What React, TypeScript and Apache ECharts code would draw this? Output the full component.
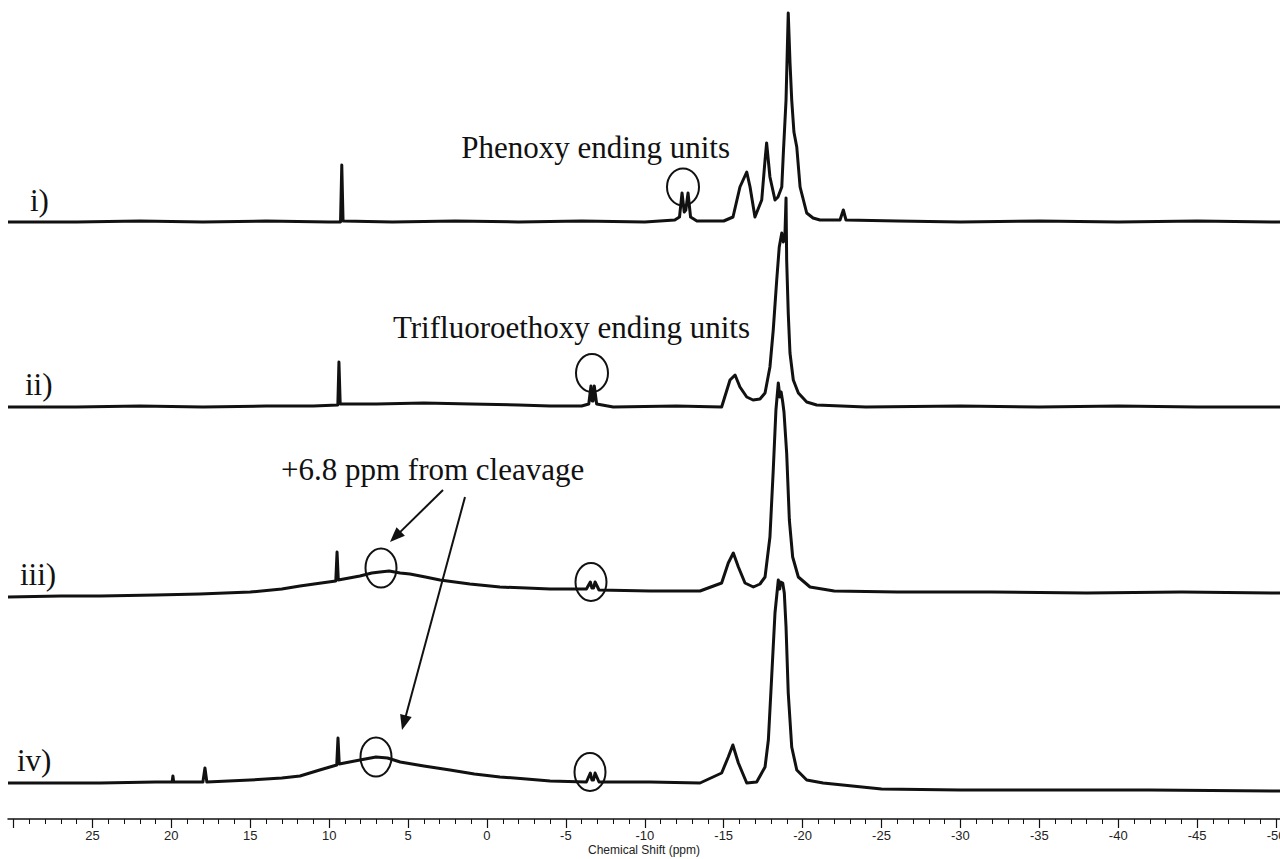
import React, { useEffect, useRef } from "react";
import * as echarts from "echarts";

// ---------- data (ppm, intensity a.u.; 0 = trace baseline) ----------
const PPM_MIN = -50.25;
const PPM_MAX = 30.35;

const TICK_LABELS = [25, 20, 15, 10, 5, 0, -5, -10, -15, -20, -25, -30, -35, -40, -45, -50];
const MAJOR_TICKS = [30, 25, 20, 15, 10, 5, 0, -5, -10, -15, -20, -25, -30, -35, -40, -45, -50];

const TRACE_NAMES = ["i)", "ii)", "iii)", "iv)"];

const TRACE_I: [number, number][] = [
  [30.35, 0], [26, 0], [22, 1], [18, 0], [14, 1], [10, 0], [9.28, 0], [9.2, 57], [9.12, 1],
  [6, 0], [2, 1], [-2, 0], [-6, 1], [-10, 0], [-11.9, 2], [-12.2, 5], [-12.36, 29], [-12.5, 10],
  [-12.6, 12], [-12.74, 29], [-12.9, 5], [-13.3, 1], [-15.0, 1], [-15.59, 5], [-16.03, 35],
  [-16.46, 50], [-16.67, 35], [-16.98, 5], [-17.41, 22], [-17.62, 62], [-17.72, 79], [-17.93, 45],
  [-18.25, 22], [-18.44, 25], [-18.68, 35], [-18.78, 69], [-18.95, 122], [-19.09, 209], [-19.2, 160],
  [-19.31, 122], [-19.45, 90], [-19.63, 75], [-19.84, 35], [-20.26, 9], [-20.66, 4], [-21.1, 2],
  [-22.37, 2], [-22.58, 12], [-22.75, 2], [-26, 1], [-30, 0], [-35, 1], [-40, 0], [-45, 1], [-50.25, 0],
];

const TRACE_II: [number, number][] = [
  [30.35, 0], [26, 0], [22, 1], [18, 0], [14, 1], [11, 1], [9.45, 2], [9.38, 45], [9.3, 3], [7, 3],
  [4, 4], [1, 3], [-2, 2], [-4, 1], [-6, 1], [-6.45, 3], [-6.59, 21], [-6.66, 6], [-6.72, 6],
  [-6.8, 21], [-6.95, 3], [-8, 0], [-12, 1], [-14.87, 0], [-15.4, 27], [-15.72, 32], [-16.03, 20],
  [-16.46, 10], [-16.86, 7], [-17.3, 8], [-17.62, 14], [-17.93, 40], [-18.14, 77], [-18.36, 127],
  [-18.52, 160], [-18.68, 174], [-18.78, 165], [-18.88, 172], [-18.95, 209], [-18.99, 147],
  [-19.09, 94], [-19.2, 54], [-19.41, 27], [-19.73, 14], [-20.26, 5], [-20.89, 2], [-24, 0],
  [-30, 1], [-35, 0], [-40, 1], [-45, 0], [-50.25, 0],
];

const TRACE_III: [number, number][] = [
  [30.35, -5], [27, -4], [24.5, -4], [21, -3], [18.2, -2], [15, 0], [13, 3], [11.85, 6], [10.5, 9],
  [9.58, 11], [9.5, 40], [9.42, 12], [8.05, 16], [7.3, 19], [6.78, 20], [6.2, 21], [5.5, 19],
  [4.88, 18], [3.9, 15], [2.98, 12], [1.08, 8], [-0.82, 5], [-2.5, 4], [-4.0, 3], [-6.3, 3],
  [-6.55, 10], [-6.65, 4], [-6.75, 4], [-6.85, 10], [-7.1, 2], [-10.33, 1], [-13.5, 1], [-14.87, 9],
  [-15.29, 29], [-15.61, 39], [-15.93, 25], [-16.35, 9], [-16.88, 5], [-17.3, 8], [-17.62, 15],
  [-17.93, 55], [-18.14, 122], [-18.31, 182], [-18.46, 209], [-18.56, 195], [-18.64, 200],
  [-18.74, 190], [-18.82, 180], [-18.99, 139], [-19.16, 72], [-19.37, 35], [-19.73, 15],
  [-20.47, 5], [-22, 1], [-26, 0], [-32, 0], [-38, -1], [-44, 0], [-50.25, -1],
];

const TRACE_IV: [number, number][] = [
  [30.35, 2], [27, 2], [24.5, 2], [21, 3], [19.95, 3], [19.9, 9], [19.85, 3], [18.0, 3], [17.87, 17],
  [17.75, 3], [15, 5], [13, 7], [11.85, 9], [10.6, 15], [9.52, 20], [9.44, 47], [9.36, 21], [8.05, 25],
  [7.03, 28], [6.3, 27], [5.5, 23], [4.0, 19], [2.34, 15], [0.8, 11], [-0.82, 8], [-2.5, 6], [-4.0, 4],
  [-6.3, 3], [-6.55, 12], [-6.65, 5], [-6.75, 5], [-6.85, 12], [-7.1, 3], [-10.33, 3], [-13.5, 2],
  [-14.87, 12], [-15.29, 28], [-15.58, 40], [-15.93, 22], [-16.46, 2], [-17.09, 3], [-17.62, 18],
  [-17.83, 45], [-18.04, 108], [-18.25, 172], [-18.46, 205], [-18.55, 196], [-18.61, 203],
  [-18.74, 202], [-18.84, 192], [-18.95, 158], [-19.09, 92], [-19.31, 38], [-19.63, 15],
  [-20.26, 5], [-21.3, 2], [-25, -4], [-30, -5], [-36, -5], [-42, -5], [-50.25, -6],
];

const TRACES = [TRACE_I, TRACE_II, TRACE_III, TRACE_IV];

// ---------- layout ----------
const W = 1280;
const H = 859;
const BASELINES = [222, 407, 592, 785];
const AXIS_Y = 819;
const SERIF = '"Liberation Serif", "Times New Roman", Times, serif';
const SANS = '"Liberation Sans Narrow", "Liberation Sans", Arial, sans-serif';
const INK = "#111";

function arrow(x1: number, y1: number, x2: number, y2: number) {
  const dx = x2 - x1, dy = y2 - y1;
  const len = Math.hypot(dx, dy);
  const ux = dx / len, uy = dy / len;
  const hl = 15, hw = 6;
  const bx = x2 - ux * hl, by = y2 - uy * hl;
  const nx = -uy, ny = ux;
  return [
    { type: "line", shape: { x1, y1, x2: bx + ux * 2, y2: by + uy * 2 }, style: { stroke: INK, lineWidth: 2 } },
    {
      type: "polygon",
      shape: { points: [[x2, y2], [bx + nx * hw, by + ny * hw], [bx - nx * hw, by - ny * hw]] },
      style: { fill: INK },
    },
  ];
}

function ellipse(cx: number, cy: number, rx: number, ry: number) {
  return { type: "ellipse", shape: { cx, cy, rx, ry }, style: { fill: "none", stroke: INK, lineWidth: 2 } };
}

function label(text: string, x: number, y: number, align: string = "left") {
  return {
    type: "text",
    style: { text, x, y, fill: INK, font: `31px ${SERIF}`, align, verticalAlign: "middle" },
  };
}

export default function App() {
  const ref = useRef<HTMLDivElement>(null);

  useEffect(() => {
    document.body.style.margin = "0";
    if (!ref.current) return;
    const chart = echarts.init(ref.current, undefined, { renderer: "svg" });

    const minorTicks: number[] = [];
    for (let v = 30; v >= -50; v--) minorTicks.push(v);

    const grids = BASELINES.map((b) => ({
      left: 8,
      right: 0,
      top: b - 210,
      height: 220,
      containLabel: false,
      outerBoundsMode: "none",
    }));

    const axisOffset = AXIS_Y - (BASELINES[3] + 10);

    const xAxes: any[] = BASELINES.map((_, i) => ({
      gridIndex: i,
      type: "value",
      min: PPM_MIN,
      max: PPM_MAX,
      inverse: true,
      show: i === 3,
      position: "bottom",
      offset: i === 3 ? axisOffset : 0,
      splitLine: { show: false },
      axisLine: { show: true, onZero: false, lineStyle: { color: INK, width: 1.5 } },
      axisTick: { show: true, customValues: minorTicks, length: 5, lineStyle: { color: INK, width: 1 } },
      axisLabel: {
        show: true,
        customValues: TICK_LABELS,
        margin: 10,
        color: "#222",
        fontSize: 13,
        fontFamily: SANS,
      },
      name: i === 3 ? "Chemical Shift (ppm)" : "",
      nameLocation: "middle",
      nameGap: 25,
      nameTextStyle: { color: "#222", fontSize: 12, fontFamily: SANS },
    }));
    xAxes.push({
      gridIndex: 3,
      type: "value",
      min: PPM_MIN,
      max: PPM_MAX,
      inverse: true,
      position: "bottom",
      offset: axisOffset,
      splitLine: { show: false },
      axisLine: { show: false, onZero: false },
      axisTick: { show: true, customValues: MAJOR_TICKS, length: 9, lineStyle: { color: INK, width: 1.2 } },
      axisLabel: { show: false },
    });

    const yAxes = BASELINES.map((_, i) => ({ gridIndex: i, type: "value", min: -10, max: 210, show: false }));

    const series = TRACES.map((data, i) => ({
      type: "line",
      name: TRACE_NAMES[i],
      xAxisIndex: i,
      yAxisIndex: i,
      data,
      showSymbol: false,
      symbol: "none",
      clip: false,
      silent: true,
      lineStyle: { color: INK, width: 3, join: "round" },
    }));

    const graphic: any[] = [
      label(TRACE_NAMES[0], 30, 200.5),
      label(TRACE_NAMES[1], 25, 384.5),
      label(TRACE_NAMES[2], 20, 574.5),
      label(TRACE_NAMES[3], 17, 760.5),
      label("Phenoxy ending units", 730, 147.5, "right"),
      label("Trifluoroethoxy ending units", 750, 327.5, "right"),
      label("+6.8 ppm from cleavage", 281, 469.5, "left"),
      ellipse(683, 187, 16, 18.5),
      ellipse(592, 373, 16, 19),
      ellipse(381, 568, 15.5, 19.5),
      ellipse(591, 582, 15.5, 19),
      ellipse(376, 757, 15.5, 19.5),
      ellipse(590, 772, 15.5, 19),
      ...arrow(443, 490, 390, 542),
      ...arrow(465, 497, 402, 730),
    ];

    chart.setOption({
      animation: false,
      backgroundColor: "#fff",
      grid: grids,
      xAxis: xAxes,
      yAxis: yAxes,
      series,
      graphic,
    });

    return () => chart.dispose();
  }, []);

  return <div ref={ref} style={{ width: W, height: H }} />;
}
